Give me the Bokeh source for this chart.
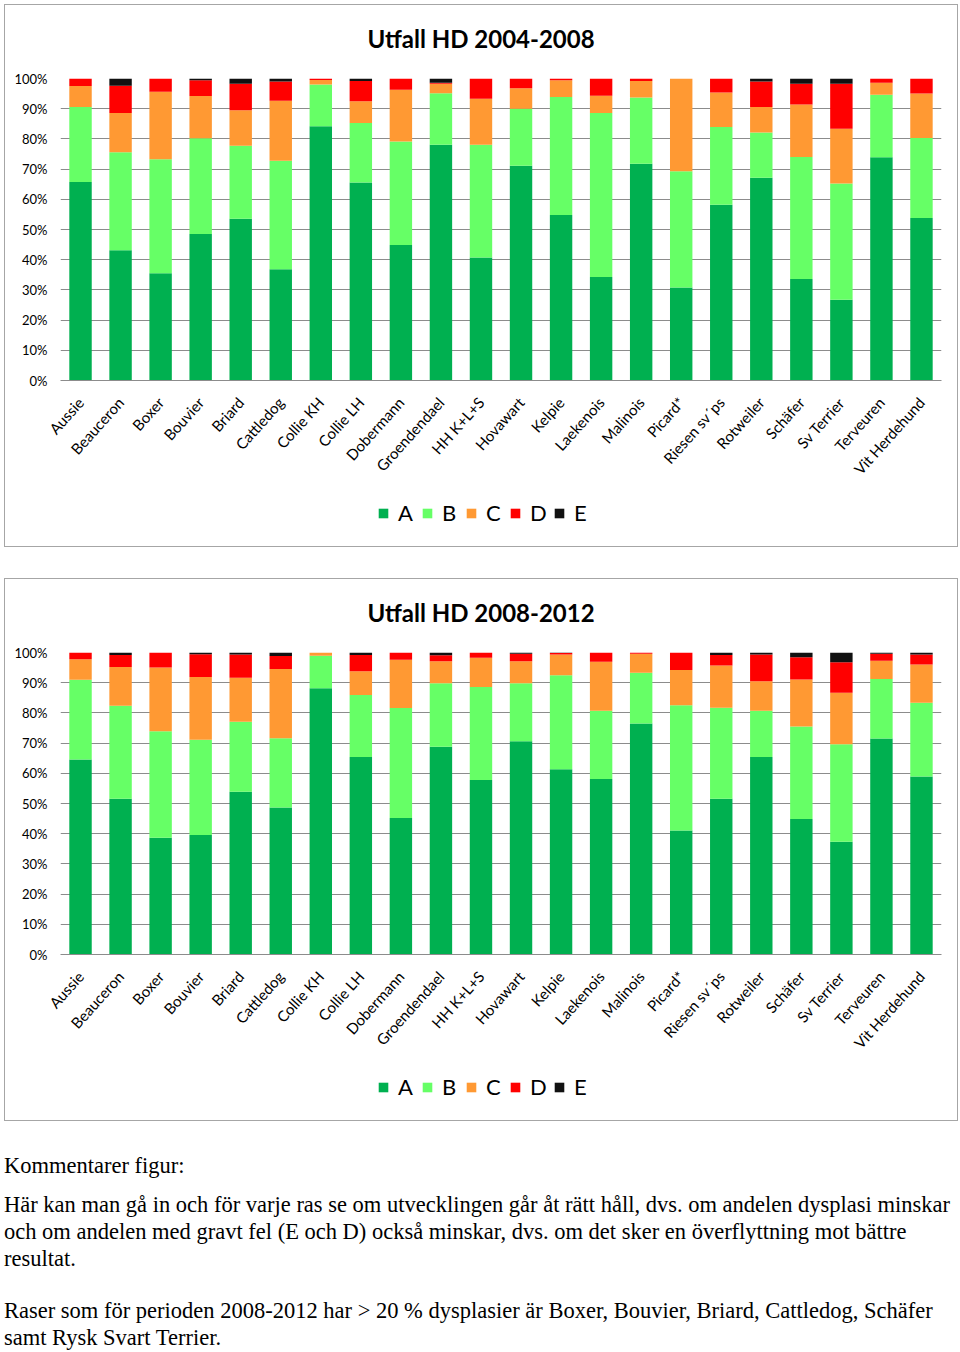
from bokeh.plotting import figure
from bokeh.models import FactorRange, Range1d, Legend, LegendItem, Div, Spacer, CustomJSTickFormatter, FixedTicker, ColumnDataSource
from bokeh.layouts import column, row
from bokeh.embed import file_html
from bokeh.resources import INLINE

breeds = ["Aussie", "Beauceron", "Boxer", "Bouvier", "Briard", "Cattledog", "Collie KH",
          "Collie LH", "Dobermann", "Groendendael", "HH K+L+S", "Hovawart", "Kelpie",
          "Laekenois", "Malinois", "Picard*", "Riesen sv´ps", "Rotweiler", "Schäfer",
          "Sv Terrier", "Terveuren", "Vit Herdehund"]
grades = ["A", "B", "C", "D", "E"]
colors = ["#00B050", "#66FF66", "#FF9933", "#FF0000", "#111111"]

# Utfall HD 2004-2008 (percent per grade)
a_0408 = [65.7, 43.1, 35.5, 48.5, 53.6, 36.8, 84.2, 65.6, 44.9, 78.1, 40.7, 71.1, 54.8, 34.3, 71.8, 30.8, 58.2, 67.1, 33.6, 26.7, 73.9, 53.8]
b_0408 = [24.9, 32.5, 37.8, 31.7, 24.1, 36.0, 13.8, 19.7, 34.2, 17.0, 37.4, 18.9, 39.1, 54.3, 21.9, 38.5, 25.7, 15.0, 40.4, 38.5, 20.7, 26.5]
c_0408 = [6.9, 13.0, 22.3, 14.0, 11.8, 19.8, 1.5, 7.2, 17.2, 3.2, 15.2, 6.8, 5.5, 5.7, 5.5, 30.7, 11.5, 8.5, 17.4, 18.2, 4.0, 14.7]
d_0408 = [2.5, 9.0, 4.4, 5.2, 8.8, 6.4, 0.5, 6.7, 3.7, 0.3, 6.7, 3.2, 0.6, 5.7, 0.8, 0.0, 4.6, 8.4, 6.9, 14.9, 1.4, 5.0]
e_0408 = [0.0, 2.4, 0.0, 0.6, 1.7, 1.0, 0.0, 0.8, 0.0, 1.4, 0.0, 0.0, 0.0, 0.0, 0.0, 0.0, 0.0, 1.0, 1.7, 1.7, 0.0, 0.0]

# Utfall HD 2008-2012 (percent per grade)
a_0812 = [64.6, 51.6, 38.7, 39.6, 53.9, 48.7, 88.2, 65.4, 45.2, 68.8, 57.8, 70.6, 61.3, 58.1, 76.5, 41.1, 51.6, 65.4, 44.9, 37.3, 71.5, 58.9]
b_0812 = [26.4, 30.8, 35.2, 31.5, 23.2, 22.9, 10.7, 20.5, 36.4, 21.0, 30.8, 19.2, 31.2, 22.6, 16.8, 41.4, 30.1, 15.3, 30.6, 32.3, 19.7, 24.5]
c_0812 = [6.8, 12.8, 21.1, 20.8, 14.5, 22.9, 1.1, 7.9, 16.0, 7.3, 9.7, 7.3, 6.8, 16.2, 6.3, 11.7, 14.0, 9.8, 15.6, 17.1, 6.1, 12.6]
d_0812 = [2.2, 4.0, 5.0, 7.5, 7.7, 4.3, 0.0, 5.4, 2.4, 2.0, 1.7, 2.5, 0.5, 3.1, 0.4, 5.8, 3.5, 8.8, 7.3, 10.1, 2.3, 3.3]
e_0812 = [0.0, 0.8, 0.0, 0.6, 0.7, 1.2, 0.0, 0.8, 0.0, 0.9, 0.0, 0.4, 0.2, 0.0, 0.0, 0.0, 0.8, 0.7, 1.6, 3.2, 0.4, 0.7]

yticks = list(range(0, 101, 10))
FONT = "Lato"
W = 954


def make_chart(title, series):
    data = {"breed": breeds}
    for g, vals in zip(grades, series):
        data[g] = vals
    src = ColumnDataSource(data)

    head = Div(text=('<div style="width:%dpx;text-align:center;font-family:Lato;font-weight:bold;'
                     'font-size:24px;line-height:29px;padding-top:20px;color:#000;">%s</div>') % (W, title),
               width=W, height=66, margin=0)

    p = figure(x_range=FactorRange(factors=breeds, range_padding=0), y_range=Range1d(0, 100),
               width=W, height=420, output_backend="svg", toolbar_location=None, title=None,
               min_border_left=56, min_border_right=17, min_border_top=8, min_border_bottom=110)
    p.vbar_stack(grades, x="breed", width=0.56, color=colors, source=src, line_width=0)
    p.border_fill_color = None
    p.background_fill_color = None
    p.outline_line_color = None
    p.xgrid.grid_line_color = None
    p.ygrid.grid_line_color = "#8c8c8c"
    p.ygrid.grid_line_width = 1
    p.yaxis.ticker = FixedTicker(ticks=yticks)
    p.yaxis.formatter = CustomJSTickFormatter(code="return tick.toFixed(0) + '%';")
    p.yaxis.axis_line_color = None
    p.yaxis.major_tick_line_color = None
    p.yaxis.minor_tick_line_color = None
    p.yaxis.major_label_text_font = FONT
    p.yaxis.major_label_text_font_size = "13px"
    p.yaxis.major_label_text_color = "#000000"
    p.yaxis.major_label_standoff = 7
    p.xaxis.axis_line_color = "#8c8c8c"
    p.xaxis.major_tick_line_color = None
    p.xaxis.major_label_orientation = 0.84
    p.xaxis.major_label_text_font = FONT
    p.xaxis.major_label_text_font_size = "15px"
    p.xaxis.major_label_text_color = "#000000"
    p.xaxis.major_label_standoff = 13

    # legend strip (hidden copies of the series provide the legend swatches)
    pl = figure(width=W, height=57, x_range=FactorRange(factors=breeds, range_padding=0),
                y_range=Range1d(0, 1), x_axis_type=None, y_axis_type=None, output_backend="svg",
                toolbar_location=None, title=None, min_border=0)
    pl.outline_line_color = None
    pl.border_fill_color = None
    pl.background_fill_color = None
    lrs = pl.vbar_stack(grades, x="breed", width=0.56, color=colors, source=src, line_width=0, visible=False)
    legend = Legend(items=[LegendItem(label=g, renderers=[r]) for g, r in zip(grades, lrs)],
                    orientation="horizontal", location=(317, 21),
                    glyph_width=12, glyph_height=12, label_standoff=9, spacing=3,
                    padding=0, margin=0, border_line_color=None, background_fill_alpha=0,
                    inactive_fill_alpha=0, click_policy="none",
                    label_text_font=FONT, label_text_font_size="22px", label_text_color="#000000")
    pl.add_layout(legend)

    return column(head, p, pl, spacing=0,
                  styles={"box-shadow": "inset 0 0 0 1px #a6a6a6", "background": "white"})


c1 = make_chart("Utfall HD 2004-2008", [a_0408, b_0408, c_0408, d_0408, e_0408])
c2 = make_chart("Utfall HD 2008-2012", [a_0812, b_0812, c_0812, d_0812, e_0812])

text = """
<div style="font-family:'Liberation Serif'; font-size:22.5px; line-height:27px; color:#000; white-space:nowrap;">
<p style="margin:0 0 12px 0;">Kommentarer figur:</p>
<p style="margin:0;">Här kan man gå in och för varje ras se om utvecklingen går åt rätt håll, dvs. om andelen dysplasi minskar<br>och om andelen med gravt fel (E och D) också minskar, dvs. om det sker en överflyttning mot bättre<br>resultat.</p>
<p style="margin:25px 0 0 0;">Raser som för perioden 2008-2012 har &gt; 20 % dysplasier är Boxer, Bouvier, Briard, Cattledog, Schäfer<br>samt Rysk Svart Terrier.</p>
</div>
"""
div = Div(text=text, width=W, margin=0)

body = column(Spacer(height=4), c1, Spacer(height=31), c2, Spacer(height=31), div, spacing=0)
layout = row(Spacer(width=4), body, spacing=0)

open("out.html", "w").write(file_html(layout, INLINE))
